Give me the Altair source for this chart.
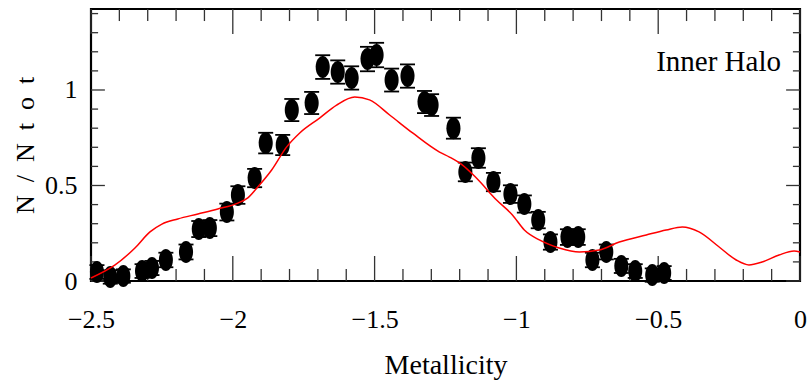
import altair as alt
import pandas as pd

# Binned metallicity distribution (normalised counts) with Poisson-like errors
feh = [-2.479, -2.432, -2.386, -2.320, -2.285, -2.236, -2.165, -2.120, -2.081, -2.021,
       -1.982, -1.923, -1.884, -1.824, -1.792, -1.722, -1.683, -1.630, -1.581, -1.525,
       -1.493, -1.440, -1.384, -1.324, -1.299, -1.222, -1.180, -1.134, -1.081, -1.021,
       -0.972, -0.923, -0.880, -0.820, -0.782, -0.732, -0.683, -0.630, -0.581, -0.521,
       -0.479]
frac = [0.047, 0.021, 0.026, 0.052, 0.068, 0.110, 0.152, 0.272, 0.277, 0.361,
        0.450, 0.539, 0.722, 0.712, 0.895, 0.932, 1.120, 1.094, 1.063, 1.162,
        1.183, 1.052, 1.073, 0.937, 0.921, 0.800, 0.571, 0.644, 0.518, 0.455,
        0.403, 0.319, 0.204, 0.230, 0.230, 0.110, 0.152, 0.079, 0.052, 0.031,
        0.042]
err = [0.036, 0.035, 0.035, 0.036, 0.037, 0.038, 0.039, 0.042, 0.042, 0.044,
       0.046, 0.048, 0.054, 0.053, 0.058, 0.058, 0.062, 0.061, 0.061, 0.064,
       0.064, 0.060, 0.061, 0.058, 0.057, 0.055, 0.049, 0.051, 0.048, 0.046,
       0.045, 0.043, 0.040, 0.041, 0.041, 0.038, 0.039, 0.037, 0.036, 0.035,
       0.036]

# Model distribution (red curve)
model_feh = [-2.500, -2.415, -2.345, -2.292, -2.250, -2.194, -2.123, -2.053, -1.982, -1.947,
             -1.912, -1.863, -1.810, -1.764, -1.694, -1.634, -1.570, -1.518, -1.447, -1.366,
             -1.271, -1.236, -1.190, -1.141, -1.070, -1.014, -0.972, -0.919, -0.849, -0.778,
             -0.708, -0.637, -0.542, -0.472, -0.415, -0.356, -0.285, -0.225, -0.180, -0.134,
             -0.074, -0.021, 0.000]
model_frac = [0.016, 0.084, 0.173, 0.257, 0.298, 0.325, 0.351, 0.377, 0.408, 0.435,
              0.492, 0.581, 0.702, 0.775, 0.853, 0.921, 0.963, 0.948, 0.869, 0.775,
              0.675, 0.649, 0.607, 0.539, 0.424, 0.346, 0.267, 0.215, 0.173, 0.152,
              0.162, 0.204, 0.241, 0.267, 0.283, 0.257, 0.178, 0.110, 0.084, 0.099,
              0.136, 0.157, 0.152]

x_tick_labels = [-2.5, -2.0, -1.5, -1.0, -0.5, 0.0]
y_tick_labels = [0.0, 0.5, 1.0]

X_DOM = [-2.5, 0.0]
Y_DOM = [0.0, 1.424]

FONT = "Liberation Serif, serif"

xs = alt.Scale(domain=X_DOM, nice=False, zero=False)
ys = alt.Scale(domain=Y_DOM, nice=False, zero=False)

pts = pd.DataFrame({"feh": feh, "frac": frac, "err": err})
pts["lo"] = pts["frac"] - pts["err"]
pts["hi"] = pts["frac"] + pts["err"]
model = pd.DataFrame({"feh": model_feh, "frac": model_frac})

# Inward-pointing ticks on all four sides (lengths in data units)
X_MAJ_LEN, X_MIN_LEN = 0.131, 0.063
Y_MAJ_LEN, Y_MIN_LEN = 0.049, 0.025
x_minor = [round(-2.5 + 0.1 * i, 1) for i in range(26)]
y_minor = [round(0.1 * i, 1) for i in range(15)]
vt = []
for v in x_minor:
    ln = X_MAJ_LEN if v in x_tick_labels else X_MIN_LEN
    vt.append({"feh": v, "frac": Y_DOM[0], "frac2": Y_DOM[0] + ln})
    vt.append({"feh": v, "frac": Y_DOM[1], "frac2": Y_DOM[1] - ln})
ht = []
for v in y_minor:
    ln = Y_MAJ_LEN if v in y_tick_labels else Y_MIN_LEN
    ht.append({"frac": v, "feh": X_DOM[0], "feh2": X_DOM[0] + ln})
    ht.append({"frac": v, "feh": X_DOM[1], "feh2": X_DOM[1] - ln})
vt = pd.DataFrame(vt)
ht = pd.DataFrame(ht)

x_axis = alt.Axis(values=x_tick_labels, format="~g", ticks=False, tickSize=0, domain=False,
                  grid=False, labelFont=FONT, labelFontSize=26, labelColor="black",
                  labelPadding=46, labelBaseline="alphabetic", labelFlush=False,
                  labelOverlap=False, title="Metallicity", titleFont=FONT, titleFontSize=28,
                  titleFontWeight="normal", titleColor="black", titleBaseline="alphabetic",
                  titleY=92)
y_axis = alt.Axis(values=y_tick_labels, format="~g", ticks=False, tickSize=0, domain=False,
                  grid=False, labelFont=FONT, labelFontSize=26, labelColor="black",
                  labelPadding=14, labelBaseline="middle", labelFlush=False,
                  labelOverlap=False, title="N\u2002/\u2002N\u2002t\u2002o\u2002t",
                  titleFont=FONT, titleFontSize=26, titleFontWeight="normal",
                  titleColor="black", titleAngle=270, titleX=-66, titleY=136,
                  titleBaseline="middle", titleAlign="center")


def X(field):
    return alt.X(field, type="quantitative", scale=xs, axis=x_axis)


def Y(field):
    return alt.Y(field, type="quantitative", scale=ys, axis=y_axis)


ellipse = "M -0.64 0 A 0.64 1 0 1 0 0.64 0 A 0.64 1 0 1 0 -0.64 0 Z"
cap = "M -1 0 L 1 0"

vticks = alt.Chart(vt).mark_rule(color="#333", strokeWidth=1.3).encode(
    x=X("feh"), y=Y("frac"), y2="frac2:Q",
)
hticks = alt.Chart(ht).mark_rule(color="#333", strokeWidth=1.3).encode(
    x=X("feh"), x2="feh2:Q", y=Y("frac"),
)
bars = alt.Chart(pts).mark_rule(color="black", strokeWidth=1.5).encode(
    x=X("feh"), y=Y("lo"), y2="hi:Q",
)
caps_lo = alt.Chart(pts).mark_point(shape=cap, size=225, color="black", strokeWidth=1.8,
                                    filled=False, opacity=1).encode(x=X("feh"), y=Y("lo"))
caps_hi = alt.Chart(pts).mark_point(shape=cap, size=225, color="black", strokeWidth=1.8,
                                    filled=False, opacity=1).encode(x=X("feh"), y=Y("hi"))
dots = alt.Chart(pts).mark_point(shape=ellipse, size=484, filled=True, color="black",
                                 opacity=1, strokeWidth=0).encode(x=X("feh"), y=Y("frac"))
curve = alt.Chart(model).mark_line(color="#ff0000", strokeWidth=1.5,
                                   interpolate="monotone").encode(x=X("feh"), y=Y("frac"))

LABEL_X, LABEL_Y = -0.067, 1.099
label = alt.Chart(pd.DataFrame({"feh": [LABEL_X], "frac": [LABEL_Y], "t": ["Inner Halo"]})).mark_text(
    align="right", baseline="alphabetic", font=FONT, fontSize=29, color="black"
).encode(x=X("feh"), y=Y("frac"), text="t:N")

chart = alt.layer(vticks, hticks, bars, caps_lo, caps_hi, dots, curve, label).properties(
    width=709,
    height=272,
    autosize=alt.AutoSizeParams(type="none"),
    padding={"left": 91, "top": 9, "right": 7, "bottom": 99},
    background="white",
).configure_view(stroke="black", strokeWidth=2.2)

chart.save("out.html", embed_options={"renderer": "svg", "actions": False})
